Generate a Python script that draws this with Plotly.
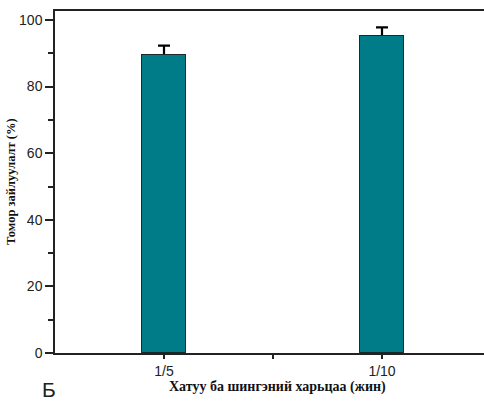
import plotly.graph_objects as go

# Solid/liquid ratio (by weight) vs. removal efficiency
ratios = ["1/5", "1/10"]
positions = [1, 2]
removal = [89.5, 95.3]
removal_err = [2.8, 2.5]

bar_color = "#007C89"
bar_line = dict(color="#1a2a2c", width=1)

fig = go.Figure()
# bars carrying the error bars
fig.add_trace(go.Bar(
    x=positions, y=removal, width=0.2,
    marker=dict(color=bar_color, line=bar_line),
    error_y=dict(type="data", array=removal_err, color="black", thickness=2.2, width=6),
    showlegend=False, hoverinfo="skip",
))
# same bars drawn again on top so only the upper half of each error bar shows
fig.add_trace(go.Bar(
    x=positions, y=removal, width=0.2,
    marker=dict(color=bar_color, line=bar_line),
    showlegend=False,
))

tick_font = dict(family="Liberation Sans, Arial, sans-serif", size=14, color="#222")
title_font = dict(family="Liberation Serif, Times New Roman, serif", size=12.5, color="#111")

fig.update_layout(
    width=484, height=401,
    margin=dict(l=55, r=0, t=11, b=48),
    paper_bgcolor="white", plot_bgcolor="white",
    barmode="overlay", bargap=0,
    xaxis=dict(
        range=[0.5, 0.5 + 429 / 218],
        tickvals=positions, ticktext=ratios,
        ticks="outside", ticklen=4, tickwidth=1.5, tickcolor="#222",
        showline=True, linecolor="#222", linewidth=1.5, mirror=True,
        showgrid=False, zeroline=False, tickfont=tick_font,
        minor=dict(tickvals=[1.5], ticks="outside", ticklen=4, tickwidth=1.5, tickcolor="#222"),
    ),
    yaxis=dict(
        range=[0, 102.7],
        tickvals=[0, 20, 40, 60, 80, 100],
        ticks="outside", ticklen=8, tickwidth=1.5, tickcolor="#222",
        showline=True, linecolor="#222", linewidth=1.5, mirror=False,
        showgrid=False, zeroline=False, tickfont=tick_font,
        minor=dict(dtick=10, ticks="outside", ticklen=5, tickwidth=1.5, tickcolor="#222"),
    ),
    annotations=[
        dict(text="<b>Томор зайлуулалт (%)</b>", xref="paper", yref="paper",
             x=(11 - 55) / 429, y=0.5, textangle=-90, showarrow=False,
             xanchor="center", yanchor="middle", font=title_font),
        dict(text="<b>Хатуу ба шингэний харьцаа (жин)</b>", xref="paper", yref="paper",
             x=(277 - 55) / 429, y=-(387 - 353.3) / 342.3, showarrow=False,
             xanchor="center", yanchor="middle",
             font=dict(family=title_font["family"], size=14, color="#111")),
        dict(text="Б", xref="paper", yref="paper",
             x=(49 - 55) / 429, y=-(390 - 353.3) / 342.3, showarrow=False,
             xanchor="center", yanchor="middle",
             font=dict(family="Liberation Sans, Arial, sans-serif", size=21, color="#222")),
    ],
)

fig.write_html("out.html")
